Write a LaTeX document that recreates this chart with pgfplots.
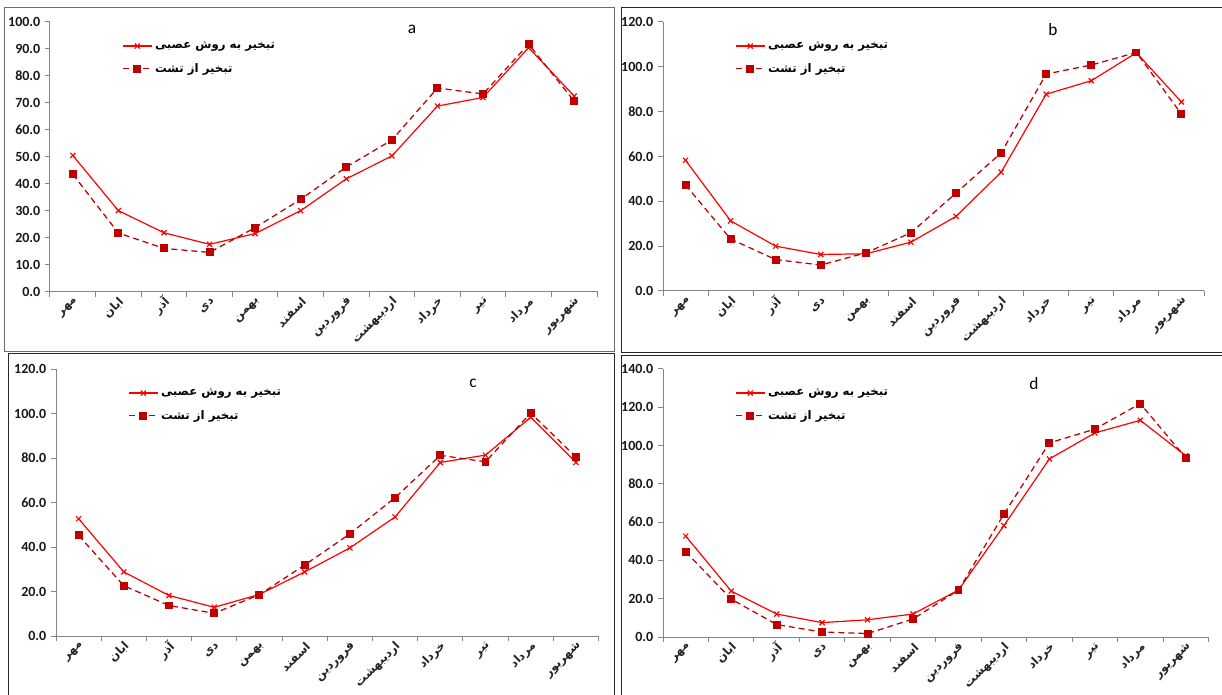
\documentclass[border=0pt]{standalone}
\usepackage{pgfplots}
\pgfplotsset{compat=1.18}
\usepackage{fontspec}
\setmainfont{Carlito}
\newfontfamily\arabicfont[Script=Arabic]{DejaVu Sans}
\TeXXeTstate=1
\newcommand{\fa}[1]{{\arabicfont\bfseries\beginR #1\endR}}
\definecolor{neurred}{HTML}{FF0000}
\definecolor{panred}{HTML}{C00000}
\definecolor{axgray}{HTML}{868686}
\pgfplotsset{
  panel/.style={
    scale only axis,
    anchor=south west,
    axis x line*=bottom, axis y line*=left,
    axis line style={axgray, line width=0.75pt},
    xmin=-0.5, xmax=11.5, ymin=0,
    xtick={-0.5,0.5,...,11.5},
    x tick label as interval,
    xticklabels={{\fa{مهر}},{\fa{ابان}},{\fa{آذر}},{\fa{دی}},{\fa{بهمن}},{\fa{اسفند}},{\fa{فروردین}},{\fa{اردیبهشت}},{\fa{خرداد}},{\fa{تیر}},{\fa{مرداد}},{\fa{شهریور}}},
    xticklabel style={xshift=5pt, rotate=45, anchor=east, font=\fontsize{8.8}{10}\selectfont, text=black!85},
    yticklabel style={font=\fontsize{10.5}{12}\selectfont\bfseries, text=black!90},
    tick align=outside,
    major tick length=3.75pt,
    tick style={axgray, line width=0.75pt},
    /pgf/number format/.cd, fixed, fixed zerofill, precision=1, assume math mode=true,
    /pgfplots/.cd,
    legend style={draw=none, fill=none, at={(0,1)}, anchor=north west, xshift=51pt, yshift=-10.5pt,
      font=\fontsize{8.8}{10}\selectfont, cells={anchor=west}, row sep=5.5pt},
    legend image code/.code={\draw[mark repeat=2,mark phase=2] plot coordinates {(0cm,0cm) (0.38cm,0cm) (0.76cm,0cm)};},
  },
  neuralplot/.style={neurred, line width=0.9pt, mark=x, mark size=2.7pt, mark options={solid}},
  panplot/.style={panred, line width=0.95pt, dash pattern=on 4.5pt off 3pt, mark=square*, mark size=2.5pt, mark options={solid}},
}
\begin{document}
\begin{tikzpicture}[x=0.75pt,y=-0.75pt]
\useasboundingbox (0,0) rectangle (1222,695);
\fill[white] (0,0) rectangle (1222,695);
% panel frames
\draw[gray!85!black, line width=1.1pt] (4.5,7.5) rectangle (614.5,351.5);
\draw[black!85, line width=1.3pt] (621.5,7.5) -- (1230,7.5);
\draw[black!85, line width=1.3pt] (621.5,7.5) -- (621.5,352.5) -- (1230,352.5);
\draw[black!85, line width=1.3pt] (8.5,700) -- (8.5,353.5) -- (614.5,353.5) -- (614.5,700);
\draw[black!85, line width=1.3pt] (621.5,700) -- (621.5,355.5) -- (1230,355.5);

% panel a
\begin{axis}[panel, at={(37.5pt,-218.625pt)}, width=410.25pt, height=202.125pt, ymax=100, ytick={0,10,...,100}]
\addplot[neuralplot] coordinates {(0,50.5) (1,30.0) (2,21.8) (3,17.5) (4,21.5) (5,30.0) (6,41.8) (7,50.3) (8,68.8) (9,72.0) (10,90.5) (11,72.5)};
\addlegendentry{\fa{تبخیر به روش عصبی}}
\addplot[panplot] coordinates {(0,43.5) (1,21.7) (2,16.0) (3,14.5) (4,23.7) (5,34.2) (6,46.2) (7,56.2) (8,75.5) (9,73.3) (10,91.8) (11,70.6)};
\addlegendentry{\fa{تبخیر از تشت}}
\end{axis}

% panel b
\begin{axis}[panel, at={(497.25pt,-218.25pt)}, width=405.75pt, height=201.75pt, ymax=120, ytick={0,20,...,120}]
\addplot[neuralplot] coordinates {(0,58.3) (1,31.3) (2,20.0) (3,16.3) (4,16.6) (5,21.8) (6,33.3) (7,53.0) (8,87.8) (9,93.8) (10,106.3) (11,84.3)};
\addlegendentry{\fa{تبخیر به روش عصبی}}
\addplot[panplot] coordinates {(0,47.3) (1,23.2) (2,14.0) (3,11.6) (4,17.0) (5,26.0) (6,43.7) (7,61.6) (8,96.8) (9,100.8) (10,106.4) (11,78.9)};
\addlegendentry{\fa{تبخیر از تشت}}
\end{axis}

% panel c
\begin{axis}[panel, at={(42pt,-477pt)}, width=406.9pt, height=200.25pt, ymax=120, ytick={0,20,...,120}]
\addplot[neuralplot] coordinates {(0,52.7) (1,28.8) (2,18.2) (3,12.9) (4,18.7) (5,28.8) (6,39.6) (7,53.5) (8,78.0) (9,81.3) (10,98.3) (11,78.0)};
\addlegendentry{\fa{تبخیر به روش عصبی}}
\addplot[panplot] coordinates {(0,45.2) (1,22.6) (2,13.7) (3,10.2) (4,18.6) (5,31.9) (6,45.9) (7,62.2) (8,81.2) (9,78.3) (10,100.2) (11,80.5)};
\addlegendentry{\fa{تبخیر از تشت}}
\end{axis}

% panel d
\begin{axis}[panel, at={(497.25pt,-477.75pt)}, width=409.1pt, height=201pt, ymax=140, ytick={0,20,...,140}]
\addplot[neuralplot] coordinates {(0,52.7) (1,24.0) (2,12.0) (3,7.5) (4,9.0) (5,12.0) (6,24.5) (7,58.2) (8,93.0) (9,106.6) (10,113.2) (11,94.7)};
\addlegendentry{\fa{تبخیر به روش عصبی}}
\addplot[panplot] coordinates {(0,44.5) (1,19.8) (2,6.5) (3,2.6) (4,1.8) (5,9.4) (6,24.5) (7,64.2) (8,101.4) (9,108.6) (10,121.9) (11,93.6)};
\addlegendentry{\fa{تبخیر از تشت}}
\end{axis}

\node[font=\fontsize{13}{15}\selectfont] at (412,29) {a};
\node[font=\fontsize{13}{15}\selectfont] at (1053,30) {b};
\node[font=\fontsize{13}{15}\selectfont] at (473,383) {c};
\node[font=\fontsize{13}{15}\selectfont] at (1034,384) {d};
\end{tikzpicture}
\end{document}
